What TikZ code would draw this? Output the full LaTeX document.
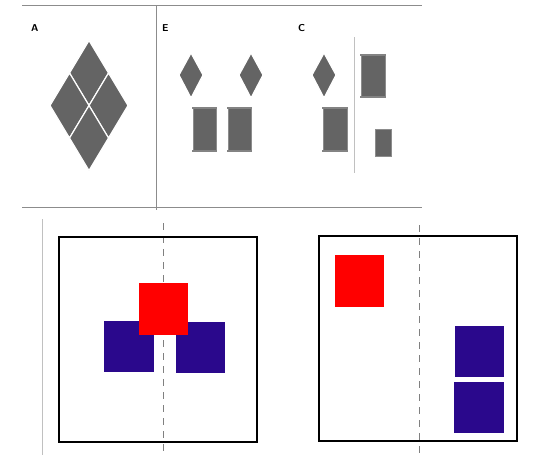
\documentclass[tikz,border=0pt]{standalone}
\usetikzlibrary{positioning}
\definecolor{tilegray}{RGB}{100,100,100}
\definecolor{edgegray}{RGB}{140,140,140}
\definecolor{figblue}{RGB}{42,8,140}
\definecolor{figred}{RGB}{255,0,0}

\begin{document}
\begin{tikzpicture}[x=1pt,y=-1pt,
  font=\sffamily\bfseries,
  rule/.style={draw=edgegray,line width=1pt},
  thinrule/.style={draw=edgegray!55,line width=0.7pt},
  tile/.style={fill=tilegray,draw=white,line width=1.2pt},
  pane/.style={fill=tilegray,draw=edgegray,line width=0.5pt},
  bar/.style={draw=tilegray!80,line width=1.2pt},
  frame/.style={draw=black,line width=1.3pt},
  axis/.style={draw=gray,line width=0.7pt,dash pattern=on 7pt off 6pt},
  lab/.style={inner sep=0pt,anchor=west}
]
\useasboundingbox (0,0) rectangle (537,455);

% top panel rules
\draw[rule] (22,5) -- (422,5);
\draw[rule] (22,207) -- (422,207);
\draw[rule] (156,5) -- (156,210);
\draw[thinrule] (354,37) -- (354,173);

\node[lab] (la) at (31,28) {A};
\node[lab] (lb) at (162,28) {E};
\node[lab] (lc) at (298,28) {C};

% panel A: four tiles
\foreach \cx/\cy in {89/73,69.5/105.5,108.5/105.5,89/138}
  \path[tile] (\cx-19.5,\cy) -- (\cx,\cy-32.5) -- (\cx+19.5,\cy) -- (\cx,\cy+32.5) -- cycle;

% panels E and C: small tiles
\foreach \cx in {191,251,324}
  \path[tile] (\cx-12,75) -- (\cx,53) -- (\cx+12,75) -- (\cx,98) -- cycle;

% panes
\foreach \xa/\ya/\xb/\yb in {193/108/216/151,228/108/251/151,323/108/347/151,361/55/385/97}{
  \path[pane] (\xa,\ya) rectangle (\xb,\yb);
  \draw[bar] (\xa-1,\ya) -- (\xb+1,\ya);
  \draw[bar] (\xa-1,\yb) -- (\xb+1,\yb);
}
\path[pane] (375,129) rectangle (391,156);

% bottom panels
\draw[thinrule] (42,219) -- (42,455);

\draw[axis] (163,223) -- (163,455);
\path[fill=figblue] (104,321) rectangle (154,372);
\path[fill=figblue] (176,322) rectangle (225,373);
\path[fill=figred] (139,283) rectangle (188,335);
\draw[frame] (59,237) rectangle (257,442);

\draw[axis] (419,225) -- (419,455);
\path[fill=figred] (335,255) rectangle (384,307);
\path[fill=figblue] (455,326) rectangle (504,377);
\path[fill=figblue] (454,382) rectangle (504,433);
\draw[frame] (319,236) rectangle (517,441);
\end{tikzpicture}
\end{document}
